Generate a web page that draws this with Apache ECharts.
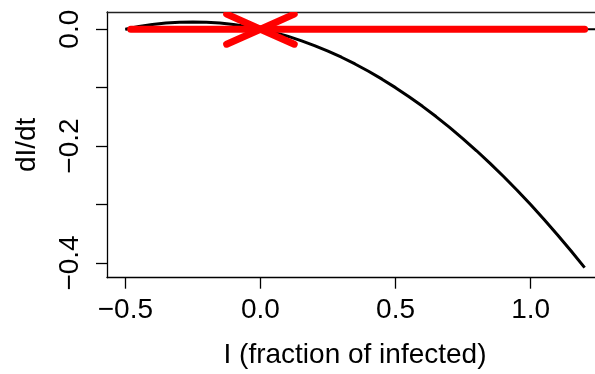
<!DOCTYPE html>
<html>
<head>
<meta charset="utf-8">
<script src="https://cdn.jsdelivr.net/npm/echarts@6/dist/echarts.min.js"></script>
<style>
html,body{margin:0;padding:0;background:#fff;}
#c{width:595px;height:374px;}
</style>
</head>
<body>
<div id="c"></div>
<script>
// Values
const infected = [-0.5,-0.45,-0.4,-0.35,-0.3,-0.25,-0.2,-0.15,-0.1,-0.05,0,0.05,0.1,0.15,0.2,0.25,0.3,0.35,0.4,0.45,0.5,0.55,0.6,0.65,0.7,0.75,0.8,0.85,0.9,0.95,1.0,1.05,1.1,1.15,1.2];
const dIdt = [0,0.0045,0.008,0.0105,0.012,0.0125,0.012,0.0105,0.008,0.0045,0,-0.0055,-0.012,-0.0195,-0.028,-0.0375,-0.048,-0.0595,-0.072,-0.0855,-0.1,-0.1155,-0.132,-0.1495,-0.168,-0.1875,-0.208,-0.2295,-0.252,-0.2755,-0.3,-0.3255,-0.352,-0.3795,-0.408];
const zeroLineX = [-0.5, 1.3];
const zeroLineY = [0, 0];
const arrowFromX = [-0.48, 1.2];
const arrowToX = [0, 0];
const arrowY = [0, 0];
const xTicks = [-0.5, 0, 0.5, 1.0];
const yTicks = [0, -0.1, -0.2, -0.3, -0.4];
const yLabels = [0, -0.2, -0.4];
const xTitle = 'I (fraction of infected)';
const yTitle = 'dI/dt';

const fmt = v => v.toFixed(1).replace('-', '\u2212');
const FONT = 'Liberation Sans, Arial, Helvetica, sans-serif';

const curve = infected.map((x, i) => [x, dIdt[i]]);
const zeroLine = zeroLineX.map((x, i) => [x, zeroLineY[i]]);
const arrows = arrowFromX.map((x, i) => [x, arrowY[i], arrowToX[i], arrowY[i]]);

const XMIN = -0.568, XMAX = 1.268;
const chart = echarts.init(document.getElementById('c'), null, {renderer: 'canvas'});
chart.setOption({
  animation: false,
  backgroundColor: '#fff',
  grid: {left: 107, top: 12, width: 496, height: 265.7, show: false, containLabel: false, outerBoundsMode: 'none'},
  xAxis: [{
    type: 'value', min: XMIN, max: XMAX,
    name: xTitle, nameLocation: 'middle', nameGap: 64,
    nameTextStyle: {fontFamily: FONT, fontSize: 28, color: '#000'},
    axisLine: {show: true, onZero: false, lineStyle: {color: '#000', width: 1.3}},
    axisTick: {show: true, customValues: xTicks, length: 11, inside: false, lineStyle: {color: '#000', width: 1.3}},
    axisLabel: {customValues: xTicks, formatter: fmt, margin: 19, fontFamily: FONT, fontSize: 28, color: '#000'},
    splitLine: {show: false}
  }, {
    type: 'value', position: 'top', min: XMIN, max: XMAX,
    axisLine: {show: true, onZero: false, lineStyle: {color: '#222', width: 1.3}},
    axisTick: {show: false}, axisLabel: {show: false}, splitLine: {show: false}
  }],
  yAxis: {
    type: 'value', min: -0.4252, max: 0.0294,
    name: yTitle, nameLocation: 'middle', nameGap: 66,
    nameTextStyle: {fontFamily: FONT, fontSize: 28, color: '#000'},
    axisLine: {show: true, onZero: false, lineStyle: {color: '#000', width: 1.3}},
    axisTick: {show: true, customValues: yTicks, length: 11, inside: false, lineStyle: {color: '#000', width: 1.3}},
    axisLabel: {customValues: yLabels, formatter: fmt, rotate: 90, margin: 23, fontFamily: FONT, fontSize: 28, color: '#000'},
    splitLine: {show: false}
  },
  series: [
    {type: 'line', data: curve, showSymbol: false, symbol: 'none', lineStyle: {color: '#000', width: 3}, z: 2, clip: true},
    {type: 'line', data: zeroLine, showSymbol: false, symbol: 'none', lineStyle: {color: '#000', width: 2}, z: 3, clip: true},
    {
      type: 'custom', z: 5, clip: true,
      data: arrows,
      encode: {x: [0, 2], y: [1, 3]},
      renderItem: function (params, api) {
        const p0 = api.coord([api.value(0), api.value(1)]);
        const p1 = api.coord([api.value(2), api.value(3)]);
        const ang = Math.atan2(p1[1] - p0[1], p1[0] - p0[0]);
        const L = 37, a = 24 * Math.PI / 180;
        const h1 = [p1[0] - L * Math.cos(ang - a), p1[1] - L * Math.sin(ang - a)];
        const h2 = [p1[0] - L * Math.cos(ang + a), p1[1] - L * Math.sin(ang + a)];
        const style = {stroke: '#ff0000', lineWidth: 7, lineCap: 'round', lineJoin: 'round', fill: null};
        return {
          type: 'group',
          children: [
            {type: 'polyline', shape: {points: [p0, p1]}, style: style},
            {type: 'polyline', shape: {points: [h1, p1, h2]}, style: style}
          ]
        };
      }
    }
  ]
});
</script>
</body>
</html>
